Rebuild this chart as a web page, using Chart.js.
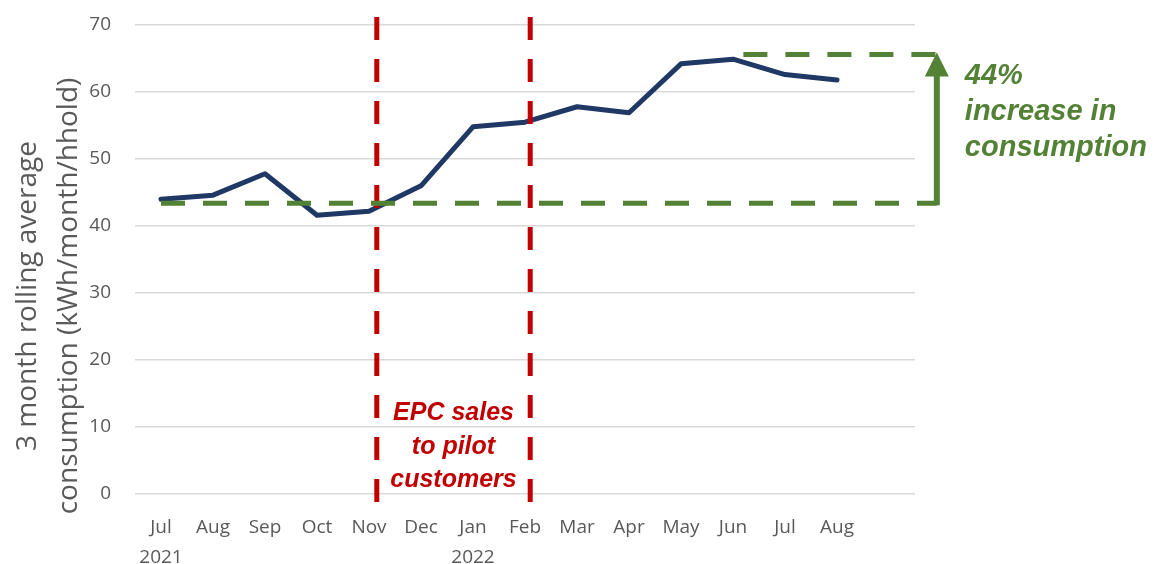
<!DOCTYPE html>
<html>
<head>
<meta charset="utf-8">
<script src="https://cdn.jsdelivr.net/npm/chart.js@4.4.1/dist/chart.umd.min.js"></script>
<style>
  html, body { margin: 0; padding: 0; background: #fff; }
  .chart_container { width: 1157px; height: 564px; position: relative; }
</style>
</head>
<body>
<div class="chart_container">
  <canvas id="myChart"></canvas>
</div>
<script>
// data
var months = ['Jul', 'Aug', 'Sep', 'Oct', 'Nov', 'Dec', 'Jan', 'Feb', 'Mar', 'Apr', 'May', 'Jun', 'Jul', 'Aug', ''];
var years = ['2021', '', '', '', '', '', '2022', '', '', '', '', '', '', '', ''];
var consumption = [44.0, 44.6, 47.8, 41.6, 42.2, 46.0, 54.8, 55.5, 57.8, 56.9, 64.2, 64.9, 62.6, 61.8, null];
var yTicks = [0, 10, 20, 30, 40, 50, 60, 70];

// annotations (in data units)
var pilotLines = [4.15, 7.1];          // category index of the red dashed lines
var baseline = 43.4;                   // level before the pilot
var peak = 65.6;                       // level after
var arrowIndex = 14.92;                // where the green arrow stands
var peakFrom = 11.2;                   // start of the upper green dash
var pilotText = ['EPC sales', 'to pilot', 'customers'];
var pilotTextY = [12, 7, 2];
var increaseText = ['44%', 'increase in', 'consumption'];
var yTitle = ['3 month rolling average', 'consumption (kWh/month/hhold)'];

var labels = months.map(function (m, i) { return years[i] ? [m, years[i]] : m; });

var red = '#C00000', green = '#538135', navy = '#203864', grey = '#595959';

var annotations = {
  id: 'annotations',
  afterDatasetsDraw: function (chart) {
    var ctx = chart.ctx, x = chart.scales.x, y = chart.scales.y;
    ctx.save();
    // red pilot lines
    ctx.strokeStyle = red;
    ctx.lineWidth = 5;
    ctx.setLineDash([23, 19]);
    pilotLines.forEach(function (v) {
      var px = x.getPixelForValue(v);
      ctx.beginPath();
      ctx.moveTo(px, y.top - 8);
      ctx.lineTo(px, y.bottom + 10);
      ctx.stroke();
    });
    // green dashed levels
    var ax = x.getPixelForValue(arrowIndex);
    var yb = y.getPixelForValue(baseline), yp = y.getPixelForValue(peak);
    ctx.strokeStyle = green;
    ctx.setLineDash([24, 18]);
    ctx.beginPath();
    ctx.moveTo(x.getPixelForValue(0), yb);
    ctx.lineTo(ax, yb);
    ctx.stroke();
    ctx.beginPath();
    ctx.moveTo(x.getPixelForValue(peakFrom), yp);
    ctx.lineTo(ax, yp);
    ctx.stroke();
    // arrow
    ctx.setLineDash([]);
    ctx.lineWidth = 6;
    ctx.beginPath();
    ctx.moveTo(ax, yb + 2);
    ctx.lineTo(ax, yp + 20);
    ctx.stroke();
    ctx.fillStyle = green;
    ctx.beginPath();
    ctx.moveTo(ax, yp - 2);
    ctx.lineTo(ax - 12, yp + 22);
    ctx.lineTo(ax + 12, yp + 22);
    ctx.closePath();
    ctx.fill();
    // texts
    ctx.font = 'italic bold 25px "Liberation Sans", Arial, sans-serif';
    ctx.fillStyle = red;
    ctx.textAlign = 'center';
    ctx.textBaseline = 'middle';
    var cx = (x.getPixelForValue(pilotLines[0]) + x.getPixelForValue(pilotLines[1])) / 2;
    pilotText.forEach(function (t, i) {
      ctx.fillText(t, cx, y.getPixelForValue(pilotTextY[i]));
    });
    ctx.font = 'italic bold 29px "Liberation Sans", Arial, sans-serif';
    ctx.fillStyle = green;
    ctx.textAlign = 'left';
    ctx.textBaseline = 'alphabetic';
    increaseText.forEach(function (t, i) {
      ctx.fillText(t, ax + 28, yp + 30 + i * 36);
    });
    // y axis title
    ctx.fillStyle = grey;
    ctx.font = '28px "Open Sans", sans-serif';
    ctx.textAlign = 'center';
    ctx.textBaseline = 'middle';
    yTitle.forEach(function (t, i) {
      ctx.save();
      ctx.translate(28 + i * 41, 296);
      ctx.rotate(-Math.PI / 2);
      ctx.fillText(t, 0, 0);
      ctx.restore();
    });
    ctx.restore();
  }
};

var ctx = document.getElementById('myChart').getContext('2d');
var myChart = new Chart(ctx, {
  type: 'line',
  data: {
    labels: labels,
    datasets: [{
      data: consumption,
      borderColor: navy,
      backgroundColor: navy,
      borderWidth: 5,
      borderCapStyle: 'round',
      borderJoinStyle: 'round',
      pointRadius: 0,
      tension: 0,
      fill: false
    }]
  },
  options: {
    responsive: true,
    maintainAspectRatio: false,
    animation: false,
    layout: { padding: { top: 25, right: 242, left: 0, bottom: 0 } },
    plugins: { legend: { display: false }, tooltip: { enabled: false } },
    scales: {
      x: {
        offset: true,
        grid: { display: false, drawTicks: false },
        border: { display: false },
        ticks: {
          color: grey,
          font: { family: '"Open Sans", sans-serif', size: 19, lineHeight: 1.55 },
          padding: 19,
          maxRotation: 0,
          autoSkip: false
        },
        afterFit: function (s) { s.height = 70; s.paddingLeft = 0; s.paddingRight = 0; }
      },
      y: {
        min: 0,
        max: 70,
        afterBuildTicks: function (s) { s.ticks = yTicks.map(function (v) { return { value: v }; }); },
        grid: { color: '#d9d9d9', lineWidth: 1.5, drawTicks: false },
        border: { display: false },
        ticks: {
          color: grey,
          font: { family: '"Open Sans", sans-serif', size: 19 },
          padding: 24
        },
        afterFit: function (s) { s.width = 135; s.paddingTop = 0; s.paddingBottom = 0; }
      }
    }
  },
  plugins: [annotations]
});
</script>
</body>
</html>
